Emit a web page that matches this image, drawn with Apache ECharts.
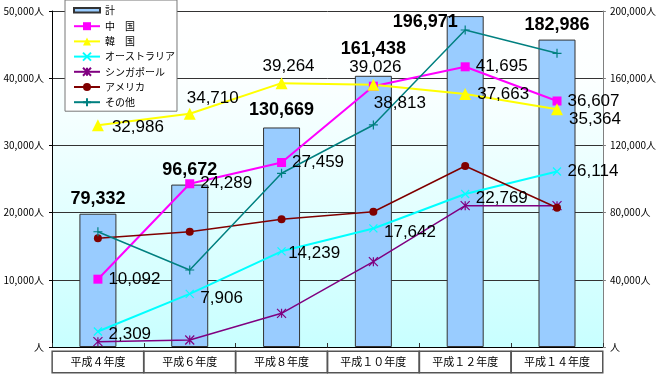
<!DOCTYPE html>
<html>
<head>
<meta charset="utf-8">
<script src="https://cdn.jsdelivr.net/npm/echarts@6/dist/echarts.min.js"></script>
<style>
html,body{margin:0;padding:0;background:#fff;}
#c{width:659px;height:375px;}
</style>
</head>
<body>
<div id="c"></div>
<script>
const categories = ['平成４年度','平成６年度','平成８年度','平成１０年度','平成１２年度','平成１４年度'];
const totalValues = [79332, 96672, 130669, 161438, 196971, 182986];
const chinaValues = [10092, 24289, 27459, 38813, 41695, 36607];
const koreaValues = [32986, 34710, 39264, 39026, 37663, 35364];
const australiaValues = [2309, 7906, 14239, 17642, 22769, 26114];
const singaporeValues = [790, 1040, 5010, 12700, 21030, 21030];
const americaValues = [16180, 17160, 19000, 20130, 26930, 20730];
const otherValues = [17150, 11460, 25850, 33040, 47170, 43700];
const leftTicks = [0, 10000, 20000, 30000, 40000, 50000];
const rightTicks = [0, 40000, 80000, 120000, 160000, 200000];

const labelFont = {fontFamily: 'Liberation Sans', fontSize: 17, color: '#000'};
const fmtNum = v => v.toLocaleString('en-US');

function withLabels(values, overrides) {
  return values.map((v, i) => {
    const o = {value: v};
    if (overrides && overrides[i]) o.label = overrides[i];
    return o;
  });
}

const crossPath = 'path://M0,0L10,10M10,0L0,10';
const starPath = 'path://M5,0L5,10M0,0L10,10M10,0L0,10';
const plusPath = 'path://M5,0L5,10M0,5L10,5';
const barIcon = 'path://M0,0M26,10M0,3h26v4.5h-26z';

function lineSeries(name, values, color, symbol, symbolSize, width, showLabel, overrides) {
  return {
    name: name,
    type: 'line',
    yAxisIndex: 0,
    data: withLabels(values, overrides),
    symbol: symbol,
    symbolSize: symbolSize,
    lineStyle: {color: color, width: width},
    itemStyle: {color: color, borderColor: color, borderWidth: symbol.indexOf('path') === 0 ? 1.2 : 0},
    label: Object.assign({
      show: showLabel,
      position: 'right',
      distance: 6,
      formatter: p => fmtNum(p.value)
    }, labelFont),
    emphasis: {disabled: true},
    z: 3
  };
}

const chart = echarts.init(document.getElementById('c'), null, {renderer: 'canvas'});
const option = {
  animation: false,
  backgroundColor: '#fff',
  textStyle: {fontFamily: 'Noto Sans CJK JP'},
  legend: {
    orient: 'vertical',
    left: 65,
    top: 0,
    padding: [4, 2, 4, 8],
    itemWidth: 26,
    itemHeight: 10,
    itemGap: 5.2,
    backgroundColor: '#fff',
    borderColor: '#777',
    borderWidth: 1,
    textStyle: {fontFamily: 'Noto Sans CJK JP', fontSize: 10, color: '#000'},
    data: [{name: '計', icon: barIcon}, '中　国', '韓　国', 'オーストラリア', 'シンガポール', 'アメリカ', 'その他'],
    z: 10
  },
  grid: {
    left: 52, right: 55, top: 11, bottom: 28,
    show: true,
    borderWidth: 0,
    backgroundColor: {
      type: 'linear', x: 0, y: 0, x2: 0, y2: 1,
      colorStops: [
        {offset: 0, color: '#ffffff'},
        {offset: 0.2, color: '#fcffff'},
        {offset: 1, color: '#c8ffff'}
      ]
    }
  },
  xAxis: {
    type: 'category',
    data: categories,
    axisLine: {lineStyle: {color: '#000', width: 1}},
    axisTick: {show: true, inside: true, length: 4, lineStyle: {color: '#333'}},
    axisLabel: {
      interval: 0,
      margin: 5,
      fontFamily: 'Noto Sans CJK JP',
      fontSize: 11,
      color: '#000',
      width: 90,
      height: 20,
      lineHeight: 20,
      align: 'center',
      backgroundColor: '#fff',
      borderColor: '#555',
      borderWidth: 1.5,
      padding: 0
    }
  },
  yAxis: [
    {
      type: 'value',
      min: leftTicks[0],
      max: leftTicks[leftTicks.length - 1],
      interval: leftTicks[1] - leftTicks[0],
      axisLine: {show: true, lineStyle: {color: '#000'}},
      axisTick: {show: true, length: 3, lineStyle: {color: '#000'}},
      splitLine: {show: true, lineStyle: {color: '#333', width: 1}},
      axisLabel: {
        margin: 8,
        fontFamily: 'Noto Sans CJK JP',
        fontSize: 10,
        color: '#000',
        formatter: v => v === 0 ? '人' : fmtNum(v) + '人'
      }
    },
    {
      type: 'value',
      min: rightTicks[0],
      max: rightTicks[rightTicks.length - 1],
      interval: rightTicks[1] - rightTicks[0],
      position: 'right',
      axisLine: {show: true, lineStyle: {color: '#808080'}},
      axisTick: {show: true, length: 3, lineStyle: {color: '#808080'}},
      splitLine: {show: false},
      axisLabel: {
        margin: 7,
        fontFamily: 'Noto Sans CJK JP',
        fontSize: 10,
        color: '#000',
        formatter: v => v === 0 ? '人' : fmtNum(v) + '人'
      }
    }
  ],
  series: [
    {
      name: '計',
      type: 'bar',
      yAxisIndex: 1,
      data: withLabels(totalValues, {
        2: {offset: [0, -2]},
        3: {offset: [0, -12]},
        4: {offset: [-40, 21]}
      }),
      barWidth: 37,
      itemStyle: {color: '#99ccff', borderColor: '#333', borderWidth: 1},
      label: {
        show: true,
        position: 'top',
        distance: 6,
        fontFamily: 'Liberation Sans',
        fontWeight: 'bold',
        fontSize: 18,
        color: '#000',
        formatter: p => fmtNum(p.value)
      },
      emphasis: {disabled: true},
      z: 2
    },
    lineSeries('中　国', chinaValues, '#ff00ff', 'rect', 9, 2, true,
      {3: {position: 'right', offset: [-10, 17]}}),
    lineSeries('韓　国', koreaValues, '#ffff00', 'triangle', 12, 2, true,
      {0: {position: 'right', offset: [2, 2]},
       1: {position: 'top', offset: [23, 5]},
       2: {position: 'top', offset: [7, 4]},
       3: {position: 'top', offset: [2, 3]},
       5: {position: 'right', offset: [0, 10]}}),
    lineSeries('オーストラリア', australiaValues, '#00ffff', crossPath, 8, 2, true,
      {0: {offset: [0, 3]}, 1: {offset: [0, 4]}, 2: {offset: [-4, 2]}, 3: {offset: [0, 4]}, 4: {offset: [0, 4]}}),
    lineSeries('シンガポール', singaporeValues, '#800080', starPath, 9, 1.5, false),
    lineSeries('アメリカ', americaValues, '#800000', 'circle', 8, 1.5, false),
    lineSeries('その他', otherValues, '#008080', plusPath, 9, 1.5, false)
  ]
};
chart.setOption(option);
</script>
</body>
</html>
